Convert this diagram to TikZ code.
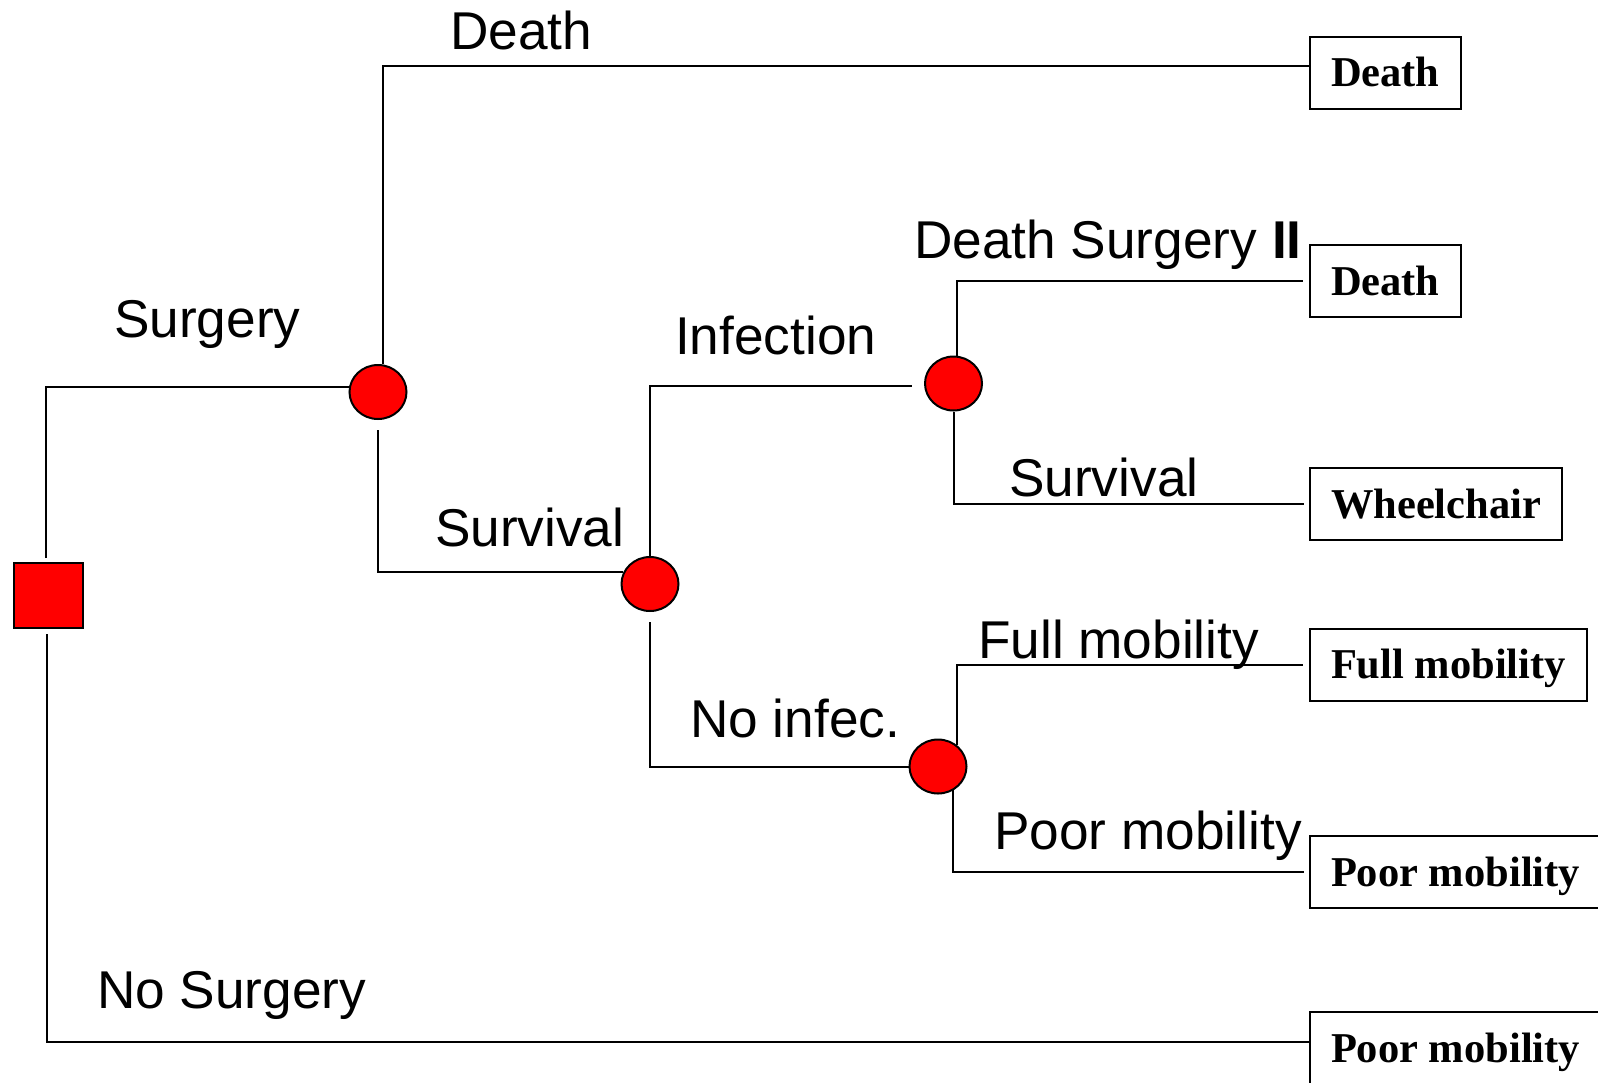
\documentclass[tikz,border=0pt]{standalone}
\usepackage{fontspec}
\setmainfont{Liberation Sans}
\newfontfamily\boxfont{Liberation Serif}
\usetikzlibrary{shapes.geometric}
\tikzset{
  wire/.style={line width=2pt},
  decision/.style={draw, line width=2pt, fill=red, minimum width=69pt, minimum height=65pt, inner sep=0pt},
  chance/.style={ellipse, draw, line width=2pt, fill=red, minimum width=57pt, minimum height=54pt, inner sep=0pt},
  outcome/.style={draw, line width=2pt, anchor=west, minimum height=72pt, inner xsep=21pt, inner ysep=0pt,
    text height=28pt, text depth=0pt, font=\boxfont\bfseries\fontsize{42.5}{48}\selectfont},
  branch/.style={anchor=base west, inner sep=0pt, font=\fontsize{53.2}{62}\selectfont}
}
\begin{document}
\begin{tikzpicture}[x=1pt,y=-1pt]
\clip (0,0) rectangle (1598,1082);
\fill[white] (0,0) rectangle (1598,1082);

% decision and chance nodes
\node[decision] (sq) at (48.5,595.5) {};
\node[chance] (c1) at (378,392) {};
\node[chance] (c2) at (650,584) {};
\node[chance] (c3) at (953.5,383.5) {};
\node[chance] (c4) at (938,766.5) {};

% terminal outcomes
\node[outcome] (d1) at (1309,72.5) {Death};
\node[outcome] (d2) at (1309,281) {Death};
\node[outcome] (wc) at (1309,504) {Wheelchair};
\node[outcome] (fm) at (1309,664.5) {Full mobility};
\node[outcome] (pm1) at (1309,872) {Poor mobility};
\node[outcome] (pm2) at (1309,1048) {Poor mobility};

% branches
\draw[wire] ([xshift=-2.5pt,yshift=4pt]sq.north) |- (c1.171);
\draw[wire] ([xshift=5pt]c1.north) |- ([yshift=6.5pt]d1.west);
\draw[wire] ([yshift=-10pt]c1.south) |- (c2.156);
\draw[wire] (c2.north) |- ([xshift=-12pt,yshift=-2.5pt]c3.west);
\draw[wire] ([yshift=-10pt]c2.south) |- (c4.west);
\draw[wire] ([xshift=3pt]c3.north) |- ([xshift=-6pt]d2.west);
\draw[wire] (c3.south) |- ([xshift=-5pt]wc.west);
\draw[wire] (c4.49) |- ([xshift=-6pt]fm.west);
\draw[wire] (c4.-57) |- ([xshift=-5pt]pm1.west);
\draw[wire] ([xshift=-1.5pt,yshift=-5pt]sq.south) |- ([yshift=6pt]pm2.west);

% branch labels
\node[branch] (lDeath) at (450,49) {Death};
\node[branch] (lSurg) at (114,337) {Surgery};
\node[branch] (lSurv1) at (435,546) {Survival};
\node[branch] (lInf) at (675,354) {Infection};
\node[branch] (lDS2) at (914,258) {Death Surgery \textbf{II}};
\node[branch] (lSurv2) at (1009,496) {Survival};
\node[branch] (lFM) at (978,658) {Full mobility};
\node[branch] (lNoInf) at (690,737) {No infec.};
\node[branch] (lPM) at (994,849) {Poor mobility};
\node[branch] (lNoSurg) at (97,1008) {No Surgery};
\end{tikzpicture}
\end{document}
